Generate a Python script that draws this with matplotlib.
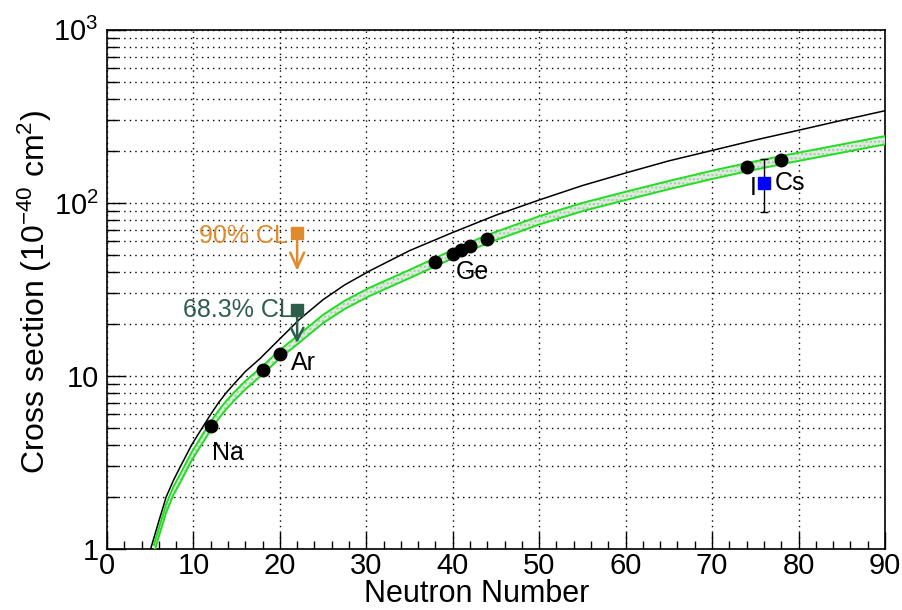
import numpy as np
import matplotlib
matplotlib.use('Agg')
import matplotlib.pyplot as plt
from matplotlib.ticker import MultipleLocator, FixedLocator, FixedFormatter, LogLocator, NullFormatter

plt.rcParams['font.family'] = ['Liberation Sans', 'DejaVu Sans']
plt.rcParams['mathtext.fontset'] = 'custom'
plt.rcParams['mathtext.rm'] = 'Liberation Sans'
plt.rcParams['mathtext.it'] = 'Liberation Sans:italic'

# curves
black_N = [5.05, 6.0, 6.85, 7.7, 8.5, 9.8, 11.0, 12.0, 12.9, 13.8, 14.7, 16.0, 17.7, 20.0, 22.3,
           25.0, 27.5, 30.4, 35.0, 40.0, 45.0, 50.0, 55.0, 60.0, 65.0, 70.0, 75.0, 80.0, 85.0, 90.0]
black_xs = [1.0, 1.45, 2.0, 2.5, 3.0, 4.0, 5.0, 6.0, 7.0, 8.0, 9.0, 10.6, 12.6, 16.4, 21.3,
            27.6, 33.6, 40.5, 53.0, 67.5, 85.0, 104.0, 126.0, 149.0, 175.0, 201.0, 231.0, 263.0, 300.0, 341.0]

green_N = [5.43, 6.0, 6.85, 7.7, 8.5, 9.8, 11.0, 12.0, 12.9, 13.8, 14.7, 16.0, 18.0, 20.0, 22.0,
           25.0, 27.5, 30.4, 35.0, 38.0, 40.0, 44.0, 50.0, 55.0, 60.0, 65.0, 70.0, 74.0, 78.0, 80.0, 85.0, 90.0]
green_xs = [1.0, 1.25, 1.72, 2.18, 2.58, 3.44, 4.3, 5.14, 5.98, 6.8, 7.62, 8.85, 10.8, 13.4, 16.1,
            21.4, 25.8, 30.7, 38.9, 45.6, 50.7, 61.9, 79.4, 94.8, 110.0, 127.0, 145.5, 161.0, 177.0, 185.0, 206.5, 230.7]
band_frac = 0.055

# measured points
pts_N = [12, 18, 20, 38, 40, 41, 42, 44, 74, 78]
pts_xs = [5.15, 10.8, 13.4, 45.6, 50.7, 53.5, 56.4, 61.9, 161.0, 177.0]

# CsI measurement
csi_N = 76
csi_xs = 130.0
csi_lo = 89.0
csi_hi = 180.0

# Ar limits
ar_N = 22
lim90 = 67.0
lim90_end = 40.5
lim68 = 24.1
lim68_end = 15.5

labels = ['Na', 'Ar', 'Ge', 'I', 'Cs']
label_N = [14.0, 22.7, 42.3, 74.8, 79.0]
label_xs = [3.6, 11.9, 40.0, 122.0, 130.0]

orange = '#e08a2c'
dkgreen = '#2d5e4c'

fig = plt.figure(figsize=(9.02, 6.10), dpi=100)
ax = fig.add_axes([0.1186, 0.1, 0.8625, 0.851])

gN = np.array(green_N)
gy = np.array(green_xs)
ax.fill_between(gN, gy * (1 - band_frac), gy * (1 + band_frac), facecolor='#dcebdc',
                edgecolor='#a8c8a8', hatch='....', linewidth=0, zorder=3)
ax.plot(gN, gy * (1 - band_frac), color='#22dd22', lw=1.4, zorder=4)
ax.plot(gN, gy * (1 + band_frac), color='#22dd22', lw=1.4, zorder=4)
ax.plot(black_N, black_xs, color='black', lw=1.1, zorder=4)

ax.plot(pts_N, pts_xs, 'o', color='black', ms=9, zorder=6)

ax.errorbar([csi_N], [csi_xs], yerr=[[csi_xs - csi_lo], [csi_hi - csi_xs]], fmt='s',
            color='blue', ms=8, ecolor='black', elinewidth=1, capsize=3, zorder=7)

ax.plot([ar_N], [lim90], 's', color=orange, ms=8, zorder=7)
ax.annotate('', xy=(ar_N, lim90_end), xytext=(ar_N, lim90),
            arrowprops=dict(arrowstyle='->,head_length=1.1,head_width=0.5', color=orange, lw=1.8,
                            shrinkA=0, shrinkB=0), zorder=6)
ax.plot([ar_N], [lim68], 's', color=dkgreen, ms=8, zorder=7)
ax.annotate('', xy=(ar_N, lim68_end), xytext=(ar_N, lim68),
            arrowprops=dict(arrowstyle='->,head_length=0.9,head_width=0.45', color=dkgreen, lw=1.8,
                            shrinkA=0, shrinkB=0), zorder=6)

ax.text(20.9, 64.0, '90% CL', color=orange, fontsize=18, ha='right', va='center')
ax.text(21.5, 24.1, '68.3% CL', color=dkgreen, fontsize=18, ha='right', va='center')

for lab, n, v in zip(labels, label_N, label_xs):
    ax.text(n, v, lab, fontsize=18, ha='center', va='center', zorder=8)

ax.set_xlim(0, 90)
ax.set_yscale('log')
ax.set_ylim(1, 1000)

ax.xaxis.set_major_locator(MultipleLocator(10))
ax.xaxis.set_minor_locator(MultipleLocator(2))
ax.yaxis.set_major_locator(FixedLocator([1, 10, 100, 1000]))
ax.yaxis.set_major_formatter(FixedFormatter(['1', '10', '$10^{2}$', '$10^{3}$']))
ax.yaxis.set_minor_locator(LogLocator(base=10, subs=np.arange(2, 10)))
ax.yaxis.set_minor_formatter(NullFormatter())

ax.tick_params(axis='both', which='both', direction='in', top=False, right=False, labelsize=21)
ax.tick_params(axis='x', which='major', length=12, width=1, pad=2)
ax.tick_params(axis='x', which='minor', length=6, width=1)
ax.tick_params(axis='y', which='major', length=14, width=1, pad=6)
ax.tick_params(axis='y', which='minor', length=8, width=1)

ax.grid(True, axis='x', which='major', color='black', linestyle=(0, (1, 3)), lw=1)
ax.grid(True, axis='y', which='both', color='black', linestyle=(0, (1, 3)), lw=1)
ax.set_axisbelow(True)

fig.text(0.529, 0.002, 'Neutron Number', fontsize=22, ha='center', va='bottom')
ax.set_ylabel('Cross section (10$^{-40}$ cm$^{2}$)', fontsize=23)
ax.yaxis.set_label_coords(-0.068, 0.495)

for s in ax.spines.values():
    s.set_linewidth(1.2)

fig.savefig('out.png', dpi=100)
